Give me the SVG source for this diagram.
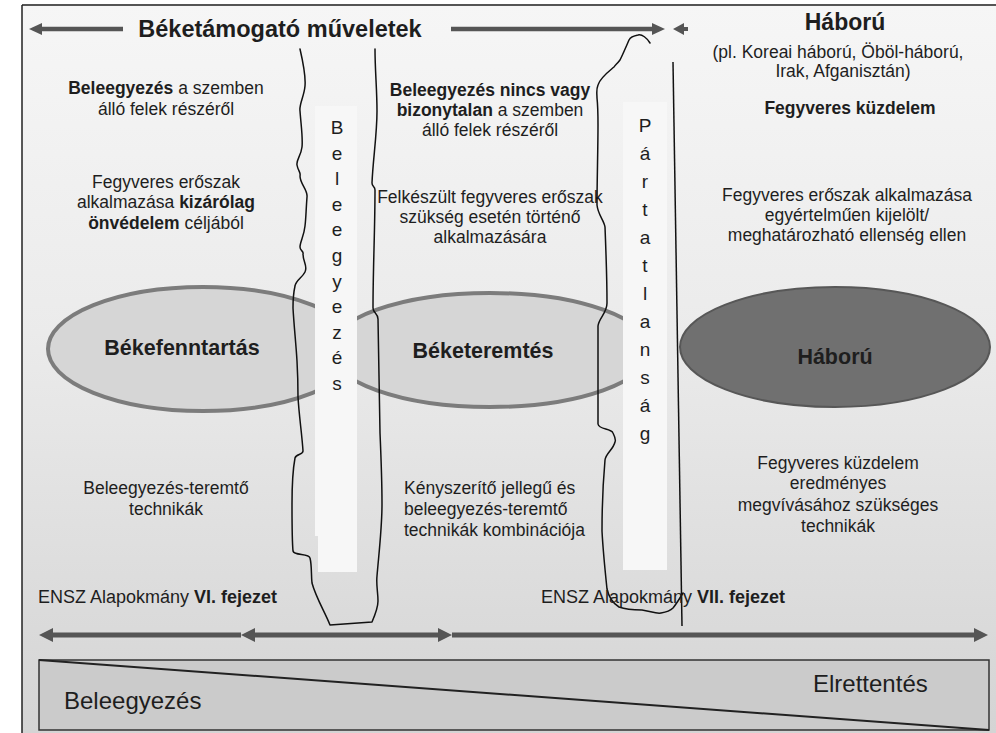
<svg xmlns="http://www.w3.org/2000/svg" width="996" height="733" viewBox="0 0 996 733">
<defs>
<linearGradient id="bg" x1="0" y1="0" x2="0" y2="1">
<stop offset="0" stop-color="#f6f6f6"/>
<stop offset="0.45" stop-color="#ebebeb"/>
<stop offset="1" stop-color="#d4d4d4"/>
</linearGradient>
<marker id="ah" viewBox="0 0 14 14" refX="4" refY="7" markerWidth="14" markerHeight="14" markerUnits="userSpaceOnUse" orient="auto-start-reverse">
<path d="M0,0 L14,7 L0,14 z" fill="#555"/>
</marker>
<marker id="ahs" viewBox="0 0 13 12" refX="4" refY="6" markerWidth="13" markerHeight="12" markerUnits="userSpaceOnUse" orient="auto-start-reverse">
<path d="M0,0 L13,6 L0,12 z" fill="#555"/>
</marker>
</defs>
<style>
.t{font-family:"Liberation Sans",Arial,sans-serif;font-size:17.5px;fill:#1e1e1e;text-anchor:middle}
.b{font-weight:bold}
.lbl{font-family:"Liberation Sans",Arial,sans-serif;font-size:21.5px;font-weight:bold;fill:#1e1e1e;text-anchor:middle}
.vl{font-family:"Liberation Sans",Arial,sans-serif;font-size:19px;fill:#1e1e1e;text-anchor:middle}
.ell{fill:#d6d6d6;stroke:#7c7c7c;stroke-width:4}
.strip{fill:#f7f7f7}
.wave{fill:none;stroke:#111;stroke-width:1.5;stroke-linejoin:round;stroke-linecap:round}
.arr{stroke:#555;fill:none}
</style>
<rect x="0" y="0" width="996" height="733" fill="#ffffff"/>
<rect x="22" y="5" width="974" height="728" fill="url(#bg)"/>
<line x1="22" y1="5" x2="996" y2="5" stroke="#555" stroke-width="2"/>
<line x1="22" y1="5" x2="22" y2="733" stroke="#222" stroke-width="1.5"/>

<g id="header">
<text class="t b" x="280" y="37" style="font-size:23.5px">Béketámogató műveletek</text>
</g>
<g id="haboru-header">
<text class="t b" x="845" y="30" style="font-size:23px">Háború</text>
<text class="t" x="838" y="58">(pl. Koreai háború, Öböl-háború,</text>
<text class="t" x="843" y="77">Irak, Afganisztán)</text>
<text class="t b" x="850" y="114">Fegyveres küzdelem</text>
</g>

<g id="col-left">
<text class="t" x="166" y="94"><tspan class="b">Beleegyezés</tspan> a szemben</text>
<text class="t" x="166" y="115">álló felek részéről</text>
<text class="t" x="166" y="188">Fegyveres erőszak</text>
<text class="t" x="166" y="208">alkalmazása <tspan class="b">kizárólag</tspan></text>
<text class="t" x="166" y="229"><tspan class="b">önvédelem</tspan> céljából</text>
<text class="t" x="166" y="494">Beleegyezés-teremtő</text>
<text class="t" x="166" y="515">technikák</text>
</g>

<g id="col-middle">
<text class="t b" x="490" y="96">Beleegyezés nincs vagy</text>
<text class="t" x="490" y="116"><tspan class="b">bizonytalan</tspan> a szemben</text>
<text class="t" x="490" y="136">álló felek részéről</text>
<text class="t" x="490" y="203">Felkészült fegyveres erőszak</text>
<text class="t" x="490" y="223">szükség esetén történő</text>
<text class="t" x="490" y="243">alkalmazására</text>
<text class="t" x="404" y="494" style="text-anchor:start">Kényszerítő jellegű és</text>
<text class="t" x="404" y="515" style="text-anchor:start">beleegyezés-teremtő</text>
<text class="t" x="404" y="536" style="text-anchor:start">technikák kombinációja</text>
</g>

<g id="col-right">
<text class="t" x="847" y="201">Fegyveres erőszak alkalmazása</text>
<text class="t" x="847" y="221">egyértelműen kijelölt/</text>
<text class="t" x="847" y="241">meghatározható ellenség ellen</text>
<text class="t" x="838" y="469">Fegyveres küzdelem</text>
<text class="t" x="838" y="489">eredményes</text>
<text class="t" x="838" y="511">megvívásához szükséges</text>
<text class="t" x="838" y="532">technikák</text>
</g>

<g id="node-bekefenntartas">
<ellipse class="ell" cx="203" cy="349" rx="155" ry="62"/>
<text class="lbl" x="182" y="355">Békefenntartás</text>
</g>
<g id="node-beketeremtes">
<ellipse class="ell" cx="490" cy="350" rx="160" ry="57"/>
<text class="lbl" x="483" y="358">Béketeremtés</text>
</g>
<g id="node-haboru">
<ellipse cx="835" cy="347" rx="155" ry="60" fill="#707070" stroke="#575757" stroke-width="2"/>
<text class="lbl" x="835" y="364">Háború</text>
</g>

<g id="strip-beleegyezes">
<rect class="strip" x="315" y="106" width="42" height="430"/>
<rect class="strip" x="318" y="530" width="39" height="42"/>
<text class="vl" x="337" y="134">B</text>
<text class="vl" x="337" y="160">e</text>
<text class="vl" x="337" y="185">l</text>
<text class="vl" x="337" y="211">e</text>
<text class="vl" x="337" y="236">e</text>
<text class="vl" x="337" y="262">g</text>
<text class="vl" x="337" y="288">y</text>
<text class="vl" x="337" y="313">e</text>
<text class="vl" x="337" y="339">z</text>
<text class="vl" x="337" y="364">é</text>
<text class="vl" x="337" y="390">s</text>
</g>

<g id="strip-partatlansag">
<rect class="strip" x="623" y="102" width="44" height="468"/>
<text class="vl" x="645" y="132">P</text>
<text class="vl" x="645" y="160">á</text>
<text class="vl" x="645" y="188">r</text>
<text class="vl" x="645" y="216">t</text>
<text class="vl" x="645" y="244">a</text>
<text class="vl" x="645" y="272">t</text>
<text class="vl" x="645" y="300">l</text>
<text class="vl" x="645" y="328">a</text>
<text class="vl" x="645" y="356">n</text>
<text class="vl" x="645" y="384">s</text>
<text class="vl" x="645" y="412">á</text>
<text class="vl" x="645" y="440">g</text>
</g>

<g id="wavy-borders">
<path class="wave" d="M300,49 C303,62 306,75 305,86 C304,97 299,104 300,111 C301,125 303,138 302,147 C301,156 296,160 297,165 C298,171 301,172 300,176 C300,184 308,190 307,197 C306,210 306,218 305,226 C304,236 300,242 300,247 C300,251 304,251 303,254 C303,262 308,266 305,272 C302,278 296,280 295,286 C293,295 293,300 293,308 C294,326 296,344 297,361 C298,379 298,388 298,397 C299,415 302,435 303,451 C303,455 296,454 295,458 C292,474 292,490 292,504 C292,520 292,540 293,551 C294,556 309,553 310,558 C312,566 311,575 312,583 C316,598 325,612 330,625 L372,622 C375,615 378,608 378,601 C378,592 376,585 377,576 C379,552 382,528 382,504 C382,480 381,456 380,433 C379,395 379,357 378,319 C378,313 373,313 373,308 C373,269 375,229 375,190 C375,186 372,187 372,183 C373,159 377,135 377,111 C377,90 375,70 375,49"/>
<path class="wave" d="M650,43 C647,38 642,34 638,35 C633,36 630,38 629,40 C626,47 623,54 620,60 C617,64 615,65 614,67 C608,72 600,78 598,85 C596,90 597,94 597,98 C598,107 598,116 598,125 C598,150 597,180 597,205 C598,215 604,220 605,227 C606,252 607,278 607,303 C607,313 599,318 598,326 C598,359 598,391 598,424 C599,430 611,428 613,433 C615,437 616,440 615,442 C613,450 606,453 605,460 C603,483 602,507 602,531 C603,550 605,570 607,589 C609,598 614,604 619,607 C627,610 635,610 642,610 C650,611 656,614 661,613 C667,612 671,610 673,608 C677,603 680,598 683,593"/>
<line x1="673" y1="62" x2="682" y2="626" stroke="#111" stroke-width="1.5"/>
</g>

<g id="chapter-labels">
<text class="t" x="38" y="603" style="text-anchor:start;font-size:18px">ENSZ Alapokmány <tspan class="b">VI. fejezet</tspan></text>
<text class="t" x="541" y="603" style="text-anchor:start;font-size:18px">ENSZ Alapokmány <tspan class="b">VII. fejezet</tspan></text>
</g>

<g id="connectors">
<line class="arr" x1="123" y1="29" x2="38" y2="29" stroke-width="4.5" marker-end="url(#ahs)"/>
<line class="arr" x1="451" y1="29" x2="656" y2="29" stroke-width="4.5" marker-end="url(#ahs)"/>
<polygon points="673,29 684,23 684,27 688,27 688,31 684,31 684,35" fill="#555"/>
<line class="arr" x1="241" y1="635" x2="49" y2="635" stroke-width="5" marker-end="url(#ah)"/>
<line class="arr" x1="251" y1="635" x2="442" y2="635" stroke-width="5" marker-start="url(#ah)" marker-end="url(#ah)"/>
<line class="arr" x1="452" y1="635" x2="978" y2="635" stroke-width="5" marker-end="url(#ah)"/>
</g>

<g id="scale-box">
<rect x="39" y="660" width="950" height="70" fill="#cbcbcb" stroke="#333" stroke-width="1.5"/>
<line x1="39" y1="660" x2="989" y2="730" stroke="#222" stroke-width="2"/>
<text class="t" x="64" y="709" style="text-anchor:start;font-size:24px">Beleegyezés</text>
<text class="t" x="813" y="692" style="text-anchor:start;font-size:24px">Elrettentés</text>
</g>
</svg>
